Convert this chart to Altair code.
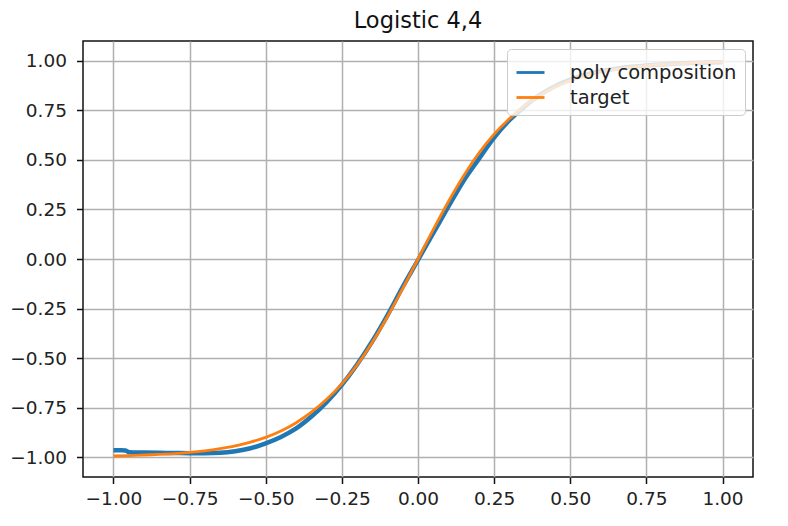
import altair as alt
import pandas as pd

# ---- data ----
title_text = "Logistic 4,4"

x_target = [-1.00, -0.95, -0.90, -0.85, -0.80, -0.75, -0.70, -0.65, -0.60, -0.55,
            -0.50, -0.45, -0.40, -0.35, -0.30, -0.25, -0.20, -0.15, -0.10, -0.05,
            0.00, 0.05, 0.10, 0.15, 0.20, 0.25, 0.30, 0.35, 0.40, 0.45,
            0.50, 0.55, 0.60, 0.65, 0.70, 0.75, 0.80, 0.85, 0.90, 0.95, 1.00]
y_target = [-0.994, -0.992, -0.989, -0.986, -0.982, -0.976, -0.968, -0.957, -0.943, -0.924,
            -0.900, -0.868, -0.826, -0.773, -0.708, -0.630, -0.535, -0.420, -0.290, -0.148,
            0.000, 0.148, 0.290, 0.420, 0.535, 0.630, 0.708, 0.773, 0.826, 0.868,
            0.900, 0.924, 0.943, 0.957, 0.968, 0.976, 0.982, 0.986, 0.989, 0.992, 0.994]

x_poly = [-1.00, -0.975, -0.96, -0.95, -0.90, -0.85, -0.80, -0.75, -0.70, -0.65, -0.60, -0.55,
          -0.50, -0.45, -0.40, -0.35, -0.30, -0.25, -0.20, -0.15, -0.10, -0.05,
          0.00, 0.05, 0.10, 0.15, 0.20, 0.25, 0.30, 0.35, 0.40, 0.45,
          0.50, 0.55, 0.60, 0.65, 0.70, 0.75, 0.80, 0.85, 0.90, 0.95, 1.00]
y_poly = [-0.965, -0.965, -0.966, -0.975, -0.977, -0.978, -0.979, -0.980, -0.980, -0.978, -0.970, -0.955,
          -0.930, -0.898, -0.855, -0.795, -0.722, -0.635, -0.532, -0.415, -0.283, -0.140,
          -0.005, 0.130, 0.265, 0.395, 0.505, 0.612, 0.700, 0.770, 0.828, 0.872,
          0.905, 0.930, 0.948, 0.960, 0.970, 0.977, 0.982, 0.986, 0.989, 0.991, 0.993]

series_names = ["poly composition", "target"]
series_colors = ["#1f77b4", "#ff7f0e"]
tick_values = [-1.00, -0.75, -0.50, -0.25, 0.00, 0.25, 0.50, 0.75, 1.00]

df_poly = pd.DataFrame({"x": x_poly, "y": y_poly, "series": series_names[0]})
df_target = pd.DataFrame({"x": x_target, "y": y_target, "series": series_names[1]})
df_title = pd.DataFrame({"t": [title_text]})

FONT = "DejaVu Sans"
W, H = 670, 436

xenc = alt.X("x:Q", scale=alt.Scale(domain=[-1.1, 1.1], nice=False, zero=False),
             axis=alt.Axis(values=tick_values, format=".2f", title=None, labelPadding=6))
yenc = alt.Y("y:Q", scale=alt.Scale(domain=[-1.1, 1.1], nice=False, zero=False),
             axis=alt.Axis(values=tick_values, format=".2f", title=None, labelPadding=10))
color = alt.Color("series:N",
                  scale=alt.Scale(domain=series_names, range=series_colors),
                  legend=alt.Legend(title=None, orient="top-right", offset=8,
                                    symbolType="stroke", symbolSize=784,
                                    symbolStrokeWidth=2.8, labelFont=FONT,
                                    labelFontSize=19.5, labelColor="#222",
                                    labelLimit=0, labelOffset=24, rowPadding=0,
                                    padding=8,
                                    fillColor="rgba(255,255,255,0.8)",
                                    strokeColor="#cccccc", cornerRadius=4))

poly = alt.Chart(df_poly).mark_line(strokeWidth=4.5, interpolate="monotone").encode(
    x=xenc, y=yenc, color=color)
target = alt.Chart(df_target).mark_line(strokeWidth=2.8, interpolate="monotone").encode(
    x=xenc, y=yenc, color=color)
title = alt.Chart(df_title).mark_text(
    font=FONT, fontSize=22.5, color="#111", align="center", baseline="alphabetic"
).encode(x=alt.value(W / 2), y=alt.value(-13), text="t:N")

chart = alt.layer(poly, target, title).properties(
    width=W, height=H,
    autosize=alt.AutoSizeParams(type="none"),
    padding={"left": 75, "top": 33, "right": 27, "bottom": 41},
).configure_view(
    stroke="#111", strokeWidth=1.5
).configure_axis(
    domain=False, grid=True, gridColor="#b0b0b0", gridWidth=1.5,
    tickColor="#111", tickWidth=1.5, tickSize=6.5,
    labelFont=FONT, labelFontSize=18.5, labelColor="#222",
)

chart.save("out.html", embed_options={"renderer": "svg", "actions": False})
